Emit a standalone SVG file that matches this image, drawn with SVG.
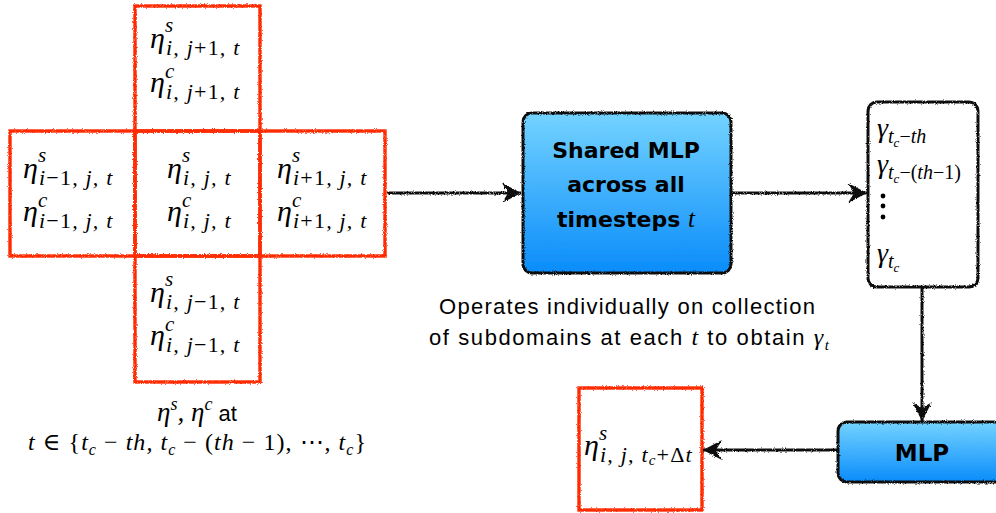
<svg xmlns="http://www.w3.org/2000/svg" width="996" height="513" viewBox="0 0 996 513">
  <defs>
    <style>
      .red { fill: none; stroke: #ff2a00; stroke-width: 3.4; }
      .blk { fill: #fff; stroke: #111; stroke-width: 3; }
      .mlp { fill: url(#blue); stroke: #111; stroke-width: 3; }
      .wire { fill: none; stroke: #111; stroke-width: 3; }
      .m { font-family: "Liberation Serif", "DejaVu Serif", serif; font-style: italic; fill: #000; }
      .up { font-style: normal; }
      .sub { font-size: 22px; letter-spacing: 1.2px; }
      .sans { font-family: "Liberation Sans", Arial, sans-serif; fill: #000; }
      .bold { font-family: "DejaVu Sans", "Liberation Sans", sans-serif; font-weight: bold; fill: #000; text-anchor: middle; }
    </style>
    <linearGradient id="blue" x1="0" y1="0" x2="0" y2="1">
      <stop offset="0" stop-color="#74d3ff"/>
      <stop offset="1" stop-color="#0a8cfa"/>
    </linearGradient>
    <filter id="rough" filterUnits="userSpaceOnUse" x="0" y="0" width="996" height="513">
      <feTurbulence type="fractalNoise" baseFrequency="1.1" numOctaves="2" seed="4"/>
      <feDisplacementMap in="SourceGraphic" scale="3" xChannelSelector="R" yChannelSelector="G"/>
    </filter>
    <marker id="head" viewBox="-20 -11 22 22" refX="0" refY="0" markerWidth="22" markerHeight="22" markerUnits="userSpaceOnUse" orient="auto">
      <path d="M0,0 L-19,-10 L-13,0 L-19,10 Z" fill="#111"/>
    </marker>
  </defs>

  <!-- stencil of subdomains -->
  <g id="cell-top">
    <rect class="red" x="135" y="6" width="125" height="125" filter="url(#rough)"/>
    <text class="m" x="150" y="48" font-size="30">η<tspan x="165" y="32" font-size="21">s</tspan><tspan class="sub" x="166" y="55">i, j<tspan class="up">+1</tspan>, t</tspan></text>
    <text class="m" x="150" y="92" font-size="30">η<tspan x="165" y="78" font-size="21">c</tspan><tspan class="sub" x="166" y="99">i, j<tspan class="up">+1</tspan>, t</tspan></text>
  </g>
  <g id="cell-left">
    <rect class="red" x="10" y="131" width="125" height="125" filter="url(#rough)"/>
    <text class="m" x="23" y="178" font-size="30">η<tspan x="38" y="162" font-size="21">s</tspan><tspan class="sub" x="39" y="185">i<tspan class="up">−1</tspan>, j, t</tspan></text>
    <text class="m" x="23" y="221" font-size="30">η<tspan x="38" y="207" font-size="21">c</tspan><tspan class="sub" x="39" y="228">i<tspan class="up">−1</tspan>, j, t</tspan></text>
  </g>
  <g id="cell-center">
    <rect class="red" x="135" y="131" width="125" height="125" filter="url(#rough)"/>
    <text class="m" x="167" y="178" font-size="30">η<tspan x="182" y="162" font-size="21">s</tspan><tspan class="sub" x="183" y="185">i, j, t</tspan></text>
    <text class="m" x="167" y="221" font-size="30">η<tspan x="182" y="207" font-size="21">c</tspan><tspan class="sub" x="183" y="228">i, j, t</tspan></text>
  </g>
  <g id="cell-right">
    <rect class="red" x="260" y="131" width="125" height="125" filter="url(#rough)"/>
    <text class="m" x="277" y="178" font-size="30">η<tspan x="292" y="162" font-size="21">s</tspan><tspan class="sub" x="293" y="185">i<tspan class="up">+1</tspan>, j, t</tspan></text>
    <text class="m" x="277" y="221" font-size="30">η<tspan x="292" y="207" font-size="21">c</tspan><tspan class="sub" x="293" y="228">i<tspan class="up">+1</tspan>, j, t</tspan></text>
  </g>
  <g id="cell-bottom">
    <rect class="red" x="135" y="256" width="125" height="126" filter="url(#rough)"/>
    <text class="m" x="150" y="302" font-size="30">η<tspan x="165" y="286" font-size="21">s</tspan><tspan class="sub" x="166" y="309">i, j<tspan class="up">−1</tspan>, t</tspan></text>
    <text class="m" x="150" y="345" font-size="30">η<tspan x="165" y="331" font-size="21">c</tspan><tspan class="sub" x="166" y="352">i, j<tspan class="up">−1</tspan>, t</tspan></text>
  </g>
  <g id="stencil-caption">
    <text x="197" y="421" text-anchor="middle" font-size="27"><tspan class="m">η<tspan font-size="18" dy="-11">s</tspan><tspan dy="11">, η</tspan><tspan font-size="18" dy="-11">c</tspan></tspan><tspan class="sans" dy="11" font-size="22"> at</tspan></text>
    <text class="m" x="28" y="450" font-size="24" textLength="338" lengthAdjust="spacing">t <tspan class="up">∈ {</tspan>t<tspan font-size="16" dy="5">c</tspan><tspan class="up" dy="-5"> − </tspan>th, t<tspan font-size="16" dy="5">c</tspan><tspan class="up" dy="-5"> − (</tspan>th<tspan class="up"> − 1), ⋯, </tspan>t<tspan font-size="16" dy="5">c</tspan><tspan class="up" dy="-5">}</tspan></text>
  </g>

  <!-- shared per-timestep network -->
  <g id="shared-mlp">
    <rect class="mlp" x="523" y="113" width="208" height="160" rx="9" filter="url(#rough)"/>
    <text class="bold" x="626" y="158" font-size="22">Shared MLP</text>
    <text class="bold" x="626" y="192" font-size="22">across all</text>
    <text class="bold" x="626" y="227" font-size="22">timesteps <tspan class="m" font-weight="normal" font-size="25">t</tspan></text>
  </g>
  <g id="shared-caption">
    <text class="sans" x="627" y="314" font-size="22" text-anchor="middle" textLength="376" lengthAdjust="spacing">Operates individually on collection</text>
    <text class="sans" x="629" y="345" font-size="22" text-anchor="middle" textLength="400" lengthAdjust="spacing">of subdomains at each <tspan class="m" font-size="24">t</tspan> to obtain <tspan class="m" font-size="24">γ<tspan font-size="15" dy="5">t</tspan></tspan></text>
  </g>

  <!-- latent sequence -->
  <g id="gamma-stack">
    <rect class="blk" x="868" y="102" width="110" height="185" rx="9" filter="url(#rough)"/>
    <text class="m" x="877" y="137" font-size="28">γ<tspan font-size="20" dy="6">t</tspan><tspan font-size="13" dy="4">c</tspan><tspan font-size="20" dy="-4"><tspan class="up">−</tspan>th</tspan></text>
    <text class="m" x="877" y="173" font-size="28">γ<tspan font-size="20" dy="6">t</tspan><tspan font-size="13" dy="4">c</tspan><tspan font-size="20" dy="-4"><tspan class="up">−(</tspan>th<tspan class="up">−1)</tspan></tspan></text>
    <circle cx="883" cy="196" r="2.4" fill="#000"/>
    <circle cx="883" cy="206" r="2.4" fill="#000"/>
    <circle cx="883" cy="217" r="2.4" fill="#000"/>
    <text class="m" x="877" y="262" font-size="28">γ<tspan font-size="20" dy="6">t</tspan><tspan font-size="13" dy="4">c</tspan></text>
  </g>

  <!-- temporal aggregation network -->
  <g id="mlp">
    <rect class="mlp" x="838" y="422" width="175" height="60" rx="9" filter="url(#rough)"/>
    <text class="bold" x="922" y="461" font-size="23">MLP</text>
  </g>

  <!-- prediction -->
  <g id="prediction">
    <rect class="red" x="579" y="388" width="123" height="122" filter="url(#rough)"/>
    <text class="m" x="584" y="455" font-size="30">η<tspan x="599" y="440" font-size="21">s</tspan><tspan class="sub" x="600" y="462">i, j, t<tspan font-size="15" dy="3">c</tspan><tspan class="up" dy="-3">+Δ</tspan>t</tspan></text>
  </g>

  <!-- connectors -->
  <g id="connectors" class="wire" filter="url(#rough)">
    <line x1="388" y1="193" x2="521" y2="193" marker-end="url(#head)"/>
    <line x1="731" y1="193" x2="867" y2="193" marker-end="url(#head)"/>
    <line x1="922" y1="288" x2="922" y2="421" marker-end="url(#head)"/>
    <line x1="838" y1="450" x2="703" y2="450" marker-end="url(#head)"/>
  </g>
</svg>
